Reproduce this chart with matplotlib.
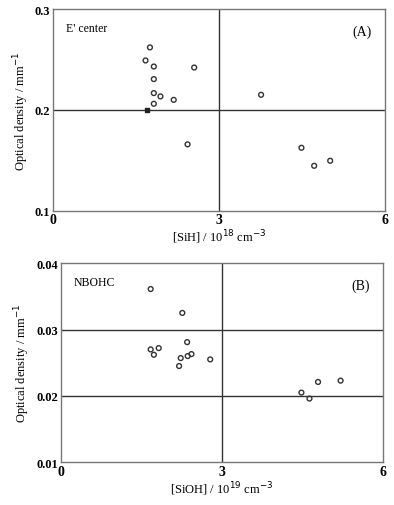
import matplotlib
matplotlib.use("Agg")
import matplotlib.pyplot as plt

# Panel A: E' center vs [SiH]
sih_x = [1.75, 1.67, 1.82, 2.55, 1.82, 1.82, 1.94, 2.18, 1.82, 2.43,
         3.76, 4.49, 4.72, 5.01]
eprime_y = [0.262, 0.249, 0.243, 0.242, 0.2305, 0.2166, 0.2133, 0.2099,
            0.206, 0.1657, 0.2149, 0.1623, 0.1444, 0.1494]
# one filled point
sih_filled_x = [1.69]
eprime_filled_y = [0.1994]

# Panel B: NBOHC vs [SiOH]
sioh_x = [1.67, 2.26, 2.35, 1.67, 1.82, 1.73, 2.23, 2.20, 2.36, 2.43,
          2.78, 4.48, 4.63, 4.79, 5.21]
nbohc_y = [0.0361, 0.0325, 0.0281, 0.0270, 0.0272, 0.0262, 0.0257, 0.0245,
           0.0260, 0.0263, 0.0255, 0.0205, 0.0196, 0.0221, 0.0223]

plt.rcParams["font.family"] = ["Liberation Serif", "DejaVu Serif"]

fig = plt.figure(figsize=(3.94, 5.06), dpi=100)
ax_a = fig.add_axes([0.135, 0.582, 0.842, 0.398])
ax_b = fig.add_axes([0.155, 0.0844, 0.817, 0.3936])

frame = "#777777"


def style(ax, xlim, ylim, yticks, ylabels, xlabel, tag, name):
    ax.set_xlim(*xlim)
    ax.set_ylim(*ylim)
    ax.set_xticks([0, 3, 6])
    ax.set_xticklabels(["0", "3", "6"], fontsize=10, fontweight="bold")
    ax.set_yticks(yticks)
    ax.set_yticklabels(ylabels, fontsize=9, fontweight="bold")
    ax.tick_params(length=0, pad=2)
    ax.axvline(3, color="#333333", lw=1.0, zorder=1)
    for y in yticks[1:-1]:
        ax.axhline(y, color="#333333", lw=1.0, zorder=1)
    for s in ax.spines.values():
        s.set_color(frame)
        s.set_linewidth(1.0)
    ax.set_xlabel(xlabel, fontsize=9, labelpad=1)
    ax.set_ylabel("Optical density / mm$^{-1}$", fontsize=9, labelpad=3)
    ax.text(0.04, 0.89, name, transform=ax.transAxes, fontsize=8.5)
    ax.text(0.96, 0.87, tag, transform=ax.transAxes, fontsize=10, ha="right")


style(ax_a, (0, 6), (0.1, 0.3), [0.1, 0.2, 0.3], ["0.1", "0.2", "0.3"],
      "[SiH] / 10$^{18}$ cm$^{-3}$", "(A)", "E' center")
ax_a.scatter(sih_x, eprime_y, s=12, facecolors="none", edgecolors="#333333",
             linewidths=1.0, zorder=3)
ax_a.scatter(sih_filled_x, eprime_filled_y, s=9, marker="s", color="#222222",
             zorder=3)

style(ax_b, (0, 6), (0.01, 0.04), [0.01, 0.02, 0.03, 0.04],
      ["0.01", "0.02", "0.03", "0.04"],
      "[SiOH] / 10$^{19}$ cm$^{-3}$", "(B)", "NBOHC")
ax_b.scatter(sioh_x, nbohc_y, s=12, facecolors="none", edgecolors="#333333",
             linewidths=1.0, zorder=3)

fig.savefig("out.png", dpi=100)
